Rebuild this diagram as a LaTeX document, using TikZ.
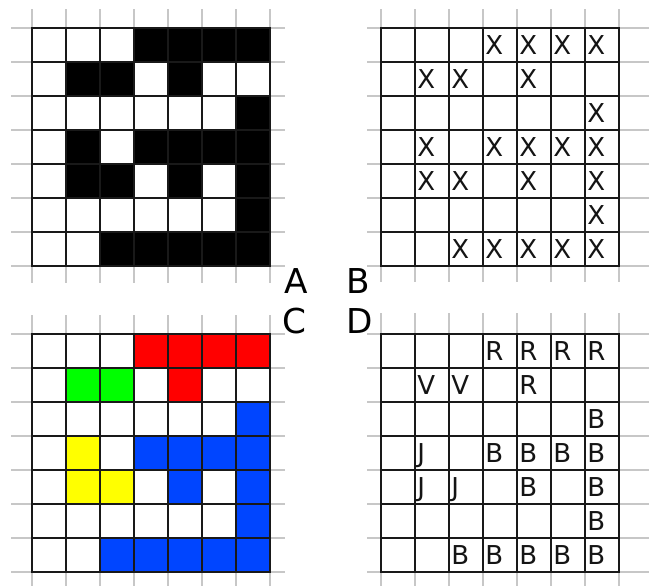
\documentclass[tikz,border=0pt]{standalone}
\usepackage{fontspec}
\setmainfont{DejaVu Sans}
\usetikzlibrary{positioning}
\definecolor{fillR}{RGB}{255,0,0}
\definecolor{fillV}{RGB}{0,255,0}
\definecolor{fillJ}{RGB}{255,255,0}
\definecolor{fillB}{RGB}{0,69,255}
\tikzset{
  sheetpen/.style={draw=black!22, line width=0.8pt},
  gridpen/.style={draw=black!90, line width=1.1pt, line cap=rect},
  celltext/.style={anchor=west, inner sep=0pt, text height=14.2pt, text depth=0pt,
    font=\fontsize{19.5}{20}\selectfont, text=black!92},
  panellabel/.style={inner sep=0pt, font=\fontsize{25.7}{26}\selectfont}
}
% the solved board: row/column/piece
\def\puzzle{1/4/R,1/5/R,1/6/R,1/7/R,2/2/V,2/3/V,2/5/R,3/7/B,4/2/J,4/4/B,4/5/B,4/6/B,4/7/B,
  5/2/J,5/3/J,5/5/B,5/7/B,6/7/B,7/3/B,7/4/B,7/5/B,7/6/B,7/7/B}
% light sheet lines: left, right, top, bottom overhang
\newcommand{\sheetlines}[4]{%
  \foreach \i in {0,...,7} {
    \draw[sheetpen] (-#1,\i*34) -- (238+#2,\i*34);
    \draw[sheetpen] (\i*34,-#3) -- (\i*34,238+#4);
  }}
\newcommand{\boardlines}{%
  \foreach \i in {0,...,7} {
    \draw[gridpen] (0,\i*34) -- (238,\i*34);
    \draw[gridpen] (\i*34,0) -- (\i*34,238);
  }}
\begin{document}
\begin{tikzpicture}[x=0.75pt, y=-0.75pt]
  \useasboundingbox (0,0) rectangle (649,586);

  % A: black cells
  \begin{scope}[shift={(32,28)}]
    \sheetlines{21}{15}{19}{17}
    \foreach \r/\c/\t in \puzzle
      \fill[black] ({(\c-1)*34},{(\r-1)*34}) rectangle ({\c*34},{\r*34});
    \boardlines
  \end{scope}

  % B: crosses
  \begin{scope}[shift={(381,28)}]
    \sheetlines{14}{31}{19}{16}
    \boardlines
    \foreach \r/\c/\t in \puzzle
      \node[celltext] (b-\r-\c) at ({(\c-1)*34+2},{(\r-0.5)*34}) {X};
  \end{scope}

  % C: coloured pieces
  \begin{scope}[shift={(32,334)}]
    \sheetlines{21}{15}{19}{14}
    \foreach \r/\c/\t in \puzzle
      \fill[fill\t] ({(\c-1)*34},{(\r-1)*34}) rectangle ({\c*34},{\r*34});
    \boardlines
  \end{scope}

  % D: piece letters
  \begin{scope}[shift={(381,334)}]
    \sheetlines{14}{31}{21}{14}
    \boardlines
    \foreach \r/\c/\t in \puzzle
      \node[celltext] (d-\r-\c) at ({(\c-1)*34+2},{(\r-0.5)*34}) {\t};
  \end{scope}

  \node[panellabel] (labA) at (296,281) {A};
  \node[panellabel] (labB) at (358.5,281) {B};
  \node[panellabel] (labC) at (294,321) {C};
  \node[panellabel] (labD) at (360,321) {D};
\end{tikzpicture}
\end{document}
